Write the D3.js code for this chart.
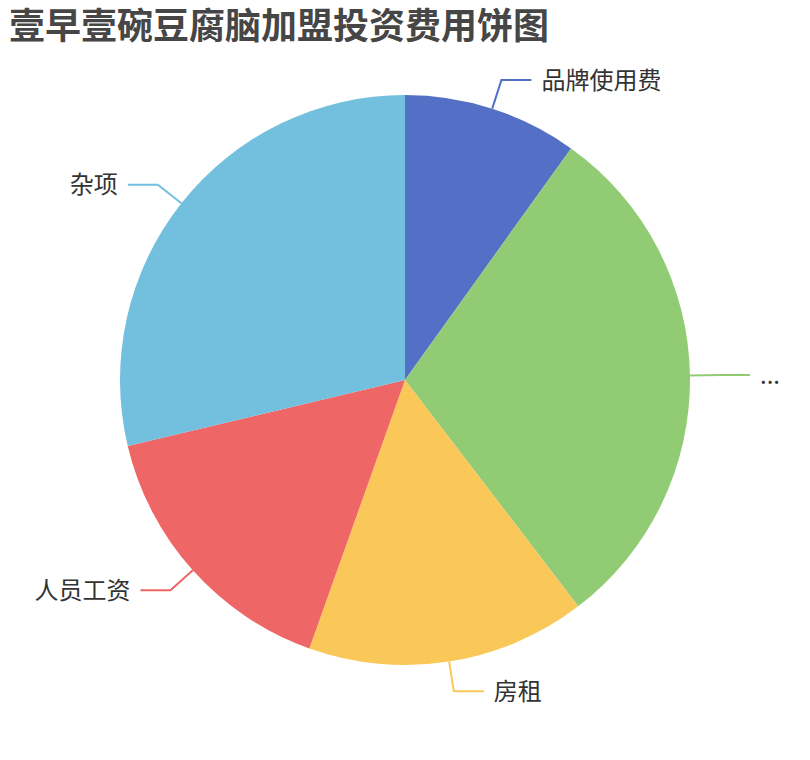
<!DOCTYPE html>
<html>
<head>
<meta charset="utf-8">
<script src="https://cdn.jsdelivr.net/npm/d3@7/dist/d3.min.js"></script>
<style>
html,body{margin:0;padding:0;background:#fff;}
svg{display:block;}
</style>
</head>
<body>
<svg id="chart" width="810" height="760"></svg>
<script>
const titleText = "壹早壹碗豆腐脑加盟投资费用饼图";
const categories = ["品牌使用费", "设备装修费", "房租", "人员工资", "杂项"];
const labelTexts = ["品牌使用费", "...", "房租", "人员工资", "杂项"];
const values = [1.0, 3.0, 1.6, 1.6, 2.9];
const colors = ["#5470c6", "#91cc75", "#fac858", "#ee6666", "#73c0de"];

const svg = d3.select("#chart");
const W = 810, H = 760;
const cx = 405, cy = 380, R = 285;
const len1 = 30, len2 = 30, gap = 10;
const font = "'Noto Sans CJK SC','Noto Sans',sans-serif";

svg.append("rect").attr("width", W).attr("height", H).attr("fill", "#fff");

svg.append("text")
  .attr("x", 9).attr("y", 39)
  .attr("font-family", font)
  .attr("font-size", 36)
  .attr("font-weight", "bold")
  .attr("fill", "#464646")
  .text(titleText);

const data = categories.map((c, i) => ({name: c, label: labelTexts[i], value: values[i], color: colors[i]}));
const pie = d3.pie().value(d => d.value).sort(null);
const arcs = pie(data);
const arc = d3.arc().innerRadius(0).outerRadius(R);

const g = svg.append("g").attr("transform", `translate(${cx},${cy})`);
g.selectAll("path.slice").data(arcs).enter().append("path")
  .attr("class", "slice")
  .attr("d", arc)
  .attr("fill", d => d.data.color);

arcs.forEach(a => {
  const mid = (a.startAngle + a.endAngle) / 2;
  const sx = Math.sin(mid), sy = -Math.cos(mid);
  const p0 = [R * sx, R * sy];
  const p1 = [(R + len1) * sx, (R + len1) * sy];
  const dir = sx >= 0 ? 1 : -1;
  const p2 = [p1[0] + dir * len2, p1[1]];
  g.append("polyline")
    .attr("points", [p0, p1, p2].map(p => p.join(",")).join(" "))
    .attr("fill", "none")
    .attr("stroke", a.data.color)
    .attr("stroke-width", 2);
  g.append("text")
    .attr("x", p2[0] + dir * gap)
    .attr("y", p2[1])
    .attr("dy", "0.35em")
    .attr("text-anchor", dir > 0 ? "start" : "end")
    .attr("font-family", font)
    .attr("font-size", 24)
    .attr("fill", "#333")
    .text(a.data.label);
});
</script>
</body>
</html>
